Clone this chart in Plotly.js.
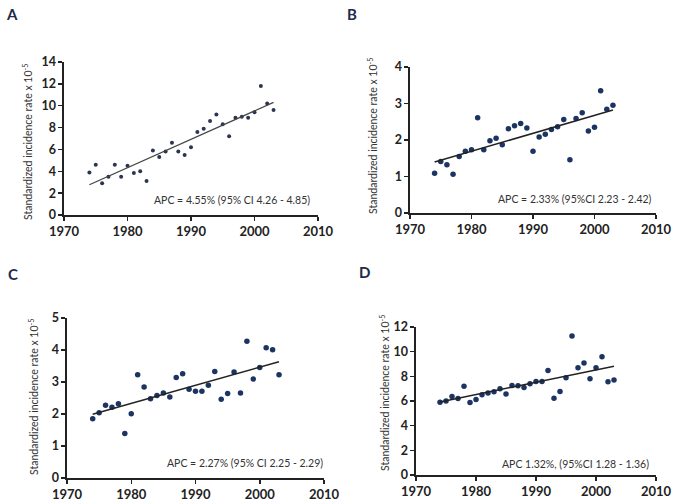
<!DOCTYPE html>
<html>
<head>
<meta charset="utf-8">
<script src="https://cdn.plot.ly/plotly-3.0.1.min.js"></script>
<style>html,body{margin:0;padding:0;background:#fff}#chart{width:673px;height:504px}</style>
</head>
<body>
<div id="chart"></div>
<script>
// Years 1974-2003
const years = [1974,1975,1976,1977,1978,1979,1980,1981,1982,1983,1984,1985,1986,1987,1988,1989,1990,1991,1992,1993,1994,1995,1996,1997,1998,1999,2000,2001,2002,2003];

const rateA = [3.9,4.6,2.9,3.5,4.6,3.5,4.5,3.85,4.0,3.1,5.9,5.3,5.8,6.6,5.8,5.5,6.2,7.6,7.9,8.6,9.2,8.3,7.2,8.9,9.0,8.9,9.4,11.8,10.2,9.6];
const rateB = [1.09,1.41,1.32,1.06,1.55,1.69,1.73,2.61,1.73,1.98,2.05,1.87,2.31,2.39,2.45,2.33,1.69,2.08,2.16,2.29,2.36,2.56,1.46,2.59,2.75,2.25,2.35,3.35,2.84,2.95];
const rateC = [1.85,2.04,2.27,2.21,2.32,1.39,2.01,3.23,2.84,2.48,2.58,2.66,2.53,3.14,3.26,2.77,2.71,2.71,2.90,3.33,2.46,2.64,3.31,2.66,4.27,3.09,3.45,4.07,4.01,3.23];
const rateD = [5.9,6.0,6.37,6.2,7.2,5.88,6.12,6.5,6.64,6.75,6.99,6.56,7.26,7.24,7.1,7.4,7.59,7.59,8.48,6.23,6.78,7.89,11.27,8.7,9.08,7.8,8.7,9.59,7.56,7.7];

const panelLabels = ['A','B','C','D'];
const apcText = [
  'APC = 4.55% (95% CI 4.26 - 4.85)',
  'APC = 2.33% (95%CI 2.23 - 2.42)',
  'APC = 2.27% (95% CI 2.25 - 2.29)',
  'APC 1.32%, (95%CI 1.28 - 1.36)'
];
const yTitle = 'Standardized incidence rate x 10<sup>-5</sup>';
const yMax = [14, 4, 5, 12];
const yStep = [2, 1, 1, 2];
const xTicks = [1970,1980,1990,2000,2010];

function linFit(x, y) {
  const n = x.length;
  const mx = x.reduce((a,b)=>a+b,0)/n, my = y.reduce((a,b)=>a+b,0)/n;
  let sxy=0, sxx=0;
  for (let i=0;i<n;i++){ sxy+=(x[i]-mx)*(y[i]-my); sxx+=(x[i]-mx)**2; }
  const b = sxy/sxx, a = my - b*mx;
  return x.map(v => a + b*v);
}

const W = 673, H = 504;
// pixel boxes [x0,x1,yTop,yBottom]
const boxes = [
  [64, 318, 62, 215],
  [410, 656, 67, 213],
  [67, 324, 318, 478],
  [416, 656, 327, 475]
];
const series = [rateA, rateB, rateC, rateD];

const traces = [];
const layout = {
  width: W, height: H,
  margin: {l:0, r:0, t:0, b:0},
  paper_bgcolor: '#fff', plot_bgcolor: '#fff',
  showlegend: false,
  font: {family: 'Lato, "Open Sans", sans-serif', color: '#222'},
  annotations: []
};

const titlePos = [[27, 142], [373, 136], [33, 397], [384, 393]];
const labelPos = [[12, 14], [352, 14], [13, 274], [364, 272]];
const apcPos = [[312, 200], [654, 199], [325, 463], [651, 464]];

for (let i=0;i<4;i++){
  const [x0,x1,yt,yb] = boxes[i];
  const s = i===0 ? '' : String(i+1);
  const xa = 'xaxis'+s, ya = 'yaxis'+s;
  layout[xa] = {
    domain: [x0/W, x1/W], range: [1970, 2010], anchor: 'y'+s,
    tickvals: xTicks, ticks: 'outside', ticklen: 4, tickcolor: '#222', tickwidth: 1.5,
    showline: true, linecolor: '#222', linewidth: 1.6,
    showgrid: false, zeroline: false,
    tickfont: {size: 13, color: '#222', family: 'Lato, sans-serif', weight: 'bold'}
  };
  const tv = []; for (let v=0; v<=yMax[i]; v+=yStep[i]) tv.push(v);
  layout[ya] = {
    domain: [1 - yb/H, 1 - yt/H], range: [0, yMax[i]], anchor: 'x'+s,
    tickvals: tv, ticks: 'outside', ticklen: 4, tickcolor: '#222', tickwidth: 1.5,
    showline: true, linecolor: '#222', linewidth: 1.6,
    showgrid: false, zeroline: false,
    tickfont: {size: 12.5, color: '#222', family: 'Lato, sans-serif', weight: 'bold'}
  };
  traces.push({
    x: years, y: series[i], type: 'scatter', mode: 'markers',
    xaxis: 'x'+s, yaxis: 'y'+s,
    marker: {size: i===0 ? 4 : 5.5, color: i===0 ? '#2a3550' : '#1c3461'},
    cliponaxis: false
  });
  traces.push({
    x: years, y: linFit(years, series[i]), type: 'scatter', mode: 'lines',
    xaxis: 'x'+s, yaxis: 'y'+s,
    line: {color: i===0 ? '#444' : '#222', width: i===0 ? 1.2 : 1.5}
  });
  layout.annotations.push({
    text: yTitle, textangle: -90, xref: 'paper', yref: 'paper',
    x: titlePos[i][0]/W, y: 1 - titlePos[i][1]/H, xanchor: 'center', yanchor: 'middle',
    showarrow: false, font: {size: 10.5, color: '#333'}
  });
  layout.annotations.push({
    text: panelLabels[i], xref: 'paper', yref: 'paper',
    x: labelPos[i][0]/W, y: 1 - labelPos[i][1]/H, xanchor: 'center', yanchor: 'middle',
    showarrow: false, font: {size: 15, color: '#1d2a4a', weight: 'bold'}
  });
  layout.annotations.push({
    text: apcText[i], xref: 'paper', yref: 'paper',
    x: apcPos[i][0]/W, y: 1 - apcPos[i][1]/H, xanchor: 'right', yanchor: 'middle',
    showarrow: false, font: {size: 10.5, color: '#333'}
  });
}

Plotly.newPlot('chart', traces, layout, {staticPlot: true, displayModeBar: false});
</script>
</body>
</html>
